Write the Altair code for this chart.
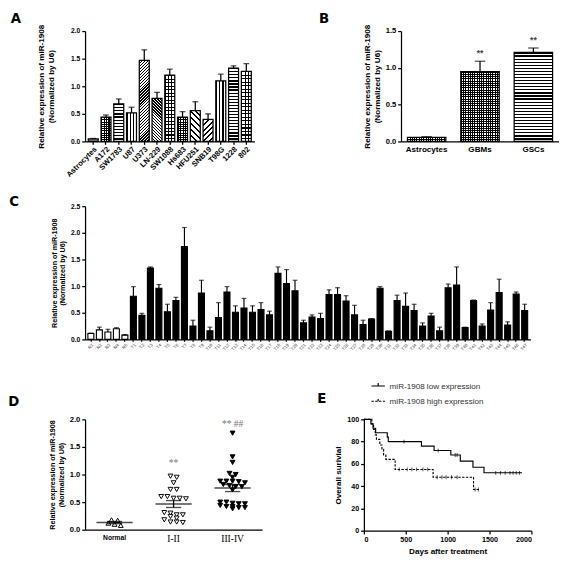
import math
import altair as alt
import pandas as pd

SANS = "Liberation Sans"
SERIF = "Liberation Serif"
LETTER = "DejaVu Sans"
YTITLE = ["Relative expression of miR-1908", "(Normalized by U6)"]

# ---------------- Panel A data ----------------
a_cells = ["Astrocytes", "A172", "SW1783", "U87", "U373", "LN-229", "SW1088",
           "Hs683", "HFU251", "SNB19", "T98G", "1228", "802"]
a_mean = [0.045, 0.44, 0.68, 0.52, 1.47, 0.78, 1.20, 0.44, 0.56, 0.40, 1.10, 1.33, 1.27]
a_top = [0.055, 0.48, 0.77, 0.62, 1.66, 0.89, 1.31, 0.54, 0.72, 0.50, 1.22, 1.37, 1.41]
a_pat = ["solid", "checker", "hlines", "vlines", "fwd_fine", "back_fine", "grid",
         "checker", "back", "fwd", "vlines", "hlines", "grid"]

# ---------------- Panel B data ----------------
b_cells = ["Astrocytes", "GBMs", "GSCs"]
b_mean = [0.055, 0.95, 1.21]
b_top = [0.065, 1.09, 1.27]
b_pat = ["checker", "checker", "hlines"]
b_star = ["", "**", "**"]

# ---------------- Panel C data ----------------
c_labels = ["N1", "N2", "N3", "N4", "N5"] + ["T%d" % i for i in range(1, 48)]
c_mean = [0.11, 0.18, 0.14, 0.20, 0.08,
          0.81, 0.45, 1.34, 0.96, 0.52, 0.73, 1.74, 0.25, 0.87, 0.16,
          0.41, 0.89, 0.51, 0.59, 0.51, 0.56, 0.46, 1.24, 1.05, 0.91,
          0.31, 0.42, 0.39, 0.84, 0.84, 0.72, 0.46, 0.28, 0.38, 0.96,
          0.15, 0.73, 0.62, 0.54, 0.25, 0.44, 0.16, 0.97, 1.02, 0.22,
          0.73, 0.25, 0.55, 0.88, 0.27, 0.85, 0.54]
c_top = [0.12, 0.23, 0.19, 0.22, 0.09,
         0.99, 0.49, 1.36, 1.03, 0.66, 0.79, 2.10, 0.36, 1.11, 0.23,
         0.69, 0.99, 0.63, 0.77, 0.63, 0.69, 0.53, 1.36, 1.31, 1.11,
         0.36, 0.46, 0.49, 0.93, 0.97, 0.82, 0.64, 0.36, 0.39, 0.99,
         0.16, 0.83, 0.87, 0.66, 0.31, 0.49, 0.23, 1.04, 1.36, 0.23,
         0.74, 0.29, 0.69, 1.13, 0.33, 0.89, 0.66]
c_kind = ["Normal"] * 5 + ["Tumor"] * 47

# ---------------- Panel D data ----------------
d_groups = ["Normal", "I-II", "III-IV"]
d_normal = [0.18, 0.12, 0.08, 0.10, 0.17]
d_g12 = [0.95, 0.97, 0.85, 0.73, 0.73, 0.60, 0.57, 0.56, 0.57, 0.60,
         0.30, 0.31, 0.27, 0.27, 0.24, 0.18, 0.14, 0.13, 0.14, 0.21]
d_g34 = [1.75, 1.32, 1.22, 1.00, 0.95, 1.02, 0.88, 0.87, 0.88, 0.88,
         0.80, 0.78, 0.78, 0.72, 0.82, 0.50, 0.48, 0.47, 0.50, 0.47,
         0.42, 0.40, 0.38, 0.40, 0.42, 0.44, 0.85]
d_note_grp = ["I-II", "III-IV"]
d_note_y = [1.20, 1.92]
d_note_txt = ["**", "** ##"]

# ---------------- Panel E data ----------------
e_low_name = "miR-1908 low expression"
e_high_name = "miR-1908 high expression"
e_low_day = [0, 83, 109, 140, 279, 291, 687, 838, 1038, 1151, 1302, 1434, 1887]
e_low_surv = [100, 96, 92, 88, 84, 80, 76, 72, 68, 62.5, 57, 52, 52]
e_high_day = [0, 95, 115, 135, 150, 190, 215, 235, 262, 373, 826, 1309, 1385]
e_high_surv = [100, 96, 91, 86, 82, 77, 73, 68, 64, 55, 48, 37, 37]
e_low_cens_day = [479, 887, 1090, 1113, 1574, 1630, 1687, 1744, 1781, 1819, 1857]
e_low_cens_surv = [80, 72, 68, 68, 52, 52, 52, 52, 52, 52, 52]
e_high_cens_day = [422, 517, 573, 630, 705, 762, 875, 932, 981, 1045, 1113, 1328, 1366]
e_high_cens_surv = [55, 55, 55, 55, 55, 55, 48, 48, 48, 48, 48, 37, 37]


# ---------------- pattern fills (striped gradients) ----------------
def _stops(n, frac, on, off):
    n = max(int(n), 1)
    out = []
    for i in range(n):
        a = round(i / n, 5)
        b = round((i + frac) / n, 5)
        c = round((i + 1) / n, 5)
        out += [alt.GradientStop(offset=a, color=on), alt.GradientStop(offset=b, color=on),
                alt.GradientStop(offset=b, color=off), alt.GradientStop(offset=c, color=off)]
    return out


def _lin(n, frac, on, off, x1, y1, x2, y2):
    return alt.LinearGradient(gradient="linear", stops=_stops(n, frac, on, off),
                              x1=x1, y1=y1, x2=x2, y2=y2)


def pattern_fills(kind, w, h):
    h = max(h, 1.0)
    if kind == "solid":
        return ["#8a8a8a"]
    if kind == "hlines":
        return [_lin(round(h / 3.2), 0.4, "black", "white", 0, 0, 0, 1)]
    if kind == "vlines":
        return [_lin(round(w / 3.2), 0.4, "black", "white", 0, 0, 1, 0)]
    if kind in ("fwd", "back", "fwd_fine", "back_fine"):
        fine = kind.endswith("fine")
        p, frac = (2.2, 0.45) if fine else (4.2, 0.35)
        k = w * (w + h) / (w * w + h * h)
        n = round((w + h) / (p * math.sqrt(2)))
        if kind.startswith("fwd"):
            return [_lin(n, frac, "black", "white", 0, 0, round(k, 5), round(k * h / w, 5))]
        return [_lin(n, frac, "black", "white", 0, 1, round(k, 5), round(1 - k * h / w, 5))]
    p, frac = (3.6, 0.3) if kind == "grid" else (2.4, 0.45)
    return [_lin(round(w / p), frac, "black", "white", 0, 0, 1, 0),
            _lin(round(h / p), frac, "black", "rgba(0,0,0,0)", 0, 0, 0, 1)]


def patterned_bars(cells, means, tops, pats, W, H, ymax, pin, pout, xaxis, yaxis, cap):
    df = pd.DataFrame({"cell": cells, "mean": means, "top": tops})
    n = len(cells)
    step = W / (n - pin + 2 * pout)
    bw = step * (1 - pin)
    xs = alt.Scale(type="band", domain=cells, paddingInner=pin, paddingOuter=pout)
    ys = alt.Scale(domain=[0, ymax])
    X = alt.X("cell:N", sort=cells, scale=xs, axis=xaxis)
    layers = []
    for i, c in enumerate(cells):
        h = means[i] / ymax * H
        fl = pattern_fills(pats[i], bw, h)
        for j, f in enumerate(fl):
            last = (j == len(fl) - 1)
            mk = dict(fill=f, strokeWidth=1.3, width=bw)
            if last:
                mk["stroke"] = "black"
            layers.append(
                alt.Chart(df).transform_filter(alt.datum.cell == c).mark_bar(**mk).encode(
                    x=X, y=alt.Y("mean:Q", scale=ys, axis=yaxis)))
    layers.append(alt.Chart(df).mark_rule(color="black", strokeWidth=1.3).encode(
        x=X, y=alt.Y("mean:Q", scale=ys, axis=yaxis), y2="top:Q"))
    layers.append(alt.Chart(df).mark_tick(color="black", thickness=1.3, size=cap).encode(
        x=X, y=alt.Y("top:Q", scale=ys, axis=yaxis)))
    return layers, df, X, ys


def panel_title(letter, offset, dy):
    # panel letter sits to the left of the y-axis title, level with the top of the panel
    return alt.TitleParams(letter, orient="left", angle=0, anchor="end", align="right",
                           baseline="top", dy=dy, font=LETTER, fontSize=14,
                           fontWeight="bold", color="black", offset=offset, frame="bounds")


def y_axis(values, lsize, tsize, pad):
    return alt.Axis(title=YTITLE, values=values, format=".1f", labelFontSize=lsize,
                    titleFontSize=tsize, titleLineHeight=tsize * 1.2, titlePadding=pad,
                    tickSize=3.5, labelPadding=2)


# ---------------- Panel A ----------------
A_W, A_H = 178, 116
a_yaxis = y_axis([0, 0.5, 1, 1.5, 2], 7, 8.5, 16)
a_layers, _, _, _ = patterned_bars(
    a_cells, a_mean, a_top, a_pat, A_W, A_H, 2.0, 0.22, 0.25,
    alt.Axis(title=None, labelAngle=-45, labelFontSize=8, tickSize=3, labelPadding=1),
    a_yaxis, 6)
panelA = alt.layer(*a_layers).properties(width=A_W, height=A_H, title=panel_title("A", 6, -12))

# ---------------- Panel B ----------------
B_W, B_H = 166, 116
b_yaxis = y_axis([0, 0.5, 1.0, 1.5], 8, 8.5, 4)
b_layers, b_df, b_X, b_ys = patterned_bars(
    b_cells, b_mean, b_top, b_pat, B_W, B_H, 1.5, 0.28, 0.12,
    alt.Axis(title=None, labelAngle=0, labelFontSize=8.5, ticks=False, labelPadding=4),
    b_yaxis, 11)
b_df["star"] = b_star
b_layers.append(alt.Chart(b_df).mark_text(dy=-3, baseline="bottom", font=SANS, fontWeight="bold",
                                          fontSize=9, color="#444").encode(
    x=b_X, y=alt.Y("top:Q", scale=b_ys, axis=b_yaxis), text="star:N"))
panelB = alt.layer(*b_layers).properties(width=B_W, height=B_H, title=panel_title("B", 25, -12))

# ---------------- Panel C ----------------
C_W, C_H = 468, 140
c_pin, c_pout = 0.3, 0.33
c_bw = C_W / (len(c_labels) - c_pin + 2 * c_pout) * (1 - c_pin)
c_df = pd.DataFrame({"lab": c_labels, "mean": c_mean, "top": c_top, "kind": c_kind})
c_X = alt.X("lab:N", sort=c_labels,
            scale=alt.Scale(type="band", domain=c_labels, paddingInner=c_pin, paddingOuter=c_pout),
            axis=alt.Axis(title=None, labelAngle=-45, labelFontSize=4.5, labelFontWeight="normal",
                          labelColor="#333", tickSize=2, labelPadding=1))
c_ys = alt.Scale(domain=[0, 2.5])
c_yaxis = y_axis([0, 0.5, 1, 1.5, 2, 2.5], 7, 7.5, 4)
c_bars = alt.Chart(c_df).mark_bar(stroke="black", strokeWidth=1.2, width=c_bw).encode(
    x=c_X, y=alt.Y("mean:Q", scale=c_ys, axis=c_yaxis),
    fill=alt.Fill("kind:N", scale=alt.Scale(domain=["Normal", "Tumor"], range=["white", "black"]),
                  legend=None))
c_rule = alt.Chart(c_df).mark_rule(color="black", strokeWidth=1.2).encode(
    x=c_X, y=alt.Y("mean:Q", scale=c_ys, axis=c_yaxis), y2="top:Q")
c_cap = alt.Chart(c_df).mark_tick(color="black", thickness=1.2, size=5).encode(
    x=c_X, y=alt.Y("top:Q", scale=c_ys, axis=c_yaxis))
panelC = alt.layer(c_bars, c_rule, c_cap).properties(width=C_W, height=C_H,
                                                     title=panel_title("C", 23, -7))


# ---------------- Panel D ----------------
def jitter(vals, gap=0.055, sp=6.5):
    order = sorted(range(len(vals)), key=lambda i: -vals[i])
    offs = [0.0] * len(vals)
    rows, cur = [], []
    for i in order:
        if cur and vals[cur[0]] - vals[i] > gap:
            rows.append(cur)
            cur = []
        cur.append(i)
    rows.append(cur)
    for r in rows:
        k = len(r)
        for j, i in enumerate(r):
            offs[i] = (j - (k - 1) / 2) * sp
    return offs


D_W, D_H = 186, 116
d_vals = [d_normal, d_g12, d_g34]
rows = []
stat = []
for g, vals in zip(d_groups, d_vals):
    for v, o in zip(vals, jitter(vals)):
        rows.append({"grp": g, "val": v, "jit": o})
    m = sum(vals) / len(vals)
    sd = math.sqrt(sum((v - m) ** 2 for v in vals) / (len(vals) - 1))
    se = sd / math.sqrt(len(vals))
    stat.append({"grp": g, "mean": m, "lo": m - se, "hi": m + se})
d_df = pd.DataFrame(rows)
d_stat = pd.DataFrame(stat)
d_note = pd.DataFrame({"grp": d_note_grp, "y": d_note_y, "txt": d_note_txt})
bwD = D_W / 3
is_norm = "datum.value == 'Normal'"
d_X = alt.X("grp:N", sort=d_groups,
            scale=alt.Scale(type="band", domain=d_groups, paddingInner=0, paddingOuter=0),
            axis=alt.Axis(title=None, labelAngle=0, ticks=False, labelPadding=4,
                          labelFont={"condition": {"test": is_norm, "value": SANS}, "value": SERIF},
                          labelFontWeight={"condition": {"test": is_norm, "value": "bold"},
                                           "value": "normal"},
                          labelFontSize={"condition": {"test": is_norm, "value": 7}, "value": 10}))
d_ys = alt.Scale(domain=[0, 2])
d_yaxis = y_axis([0, 0.5, 1, 1.5, 2], 8, 7.5, 4)
d_pts = alt.Chart(d_df).mark_point(filled=True, stroke="black", strokeWidth=1, size=26, opacity=1).encode(
    x=d_X,
    xOffset=alt.XOffset("jit:Q", scale=alt.Scale(domain=[-bwD / 2, bwD / 2], range=[0, bwD])),
    y=alt.Y("val:Q", scale=d_ys, axis=d_yaxis),
    shape=alt.Shape("grp:N", scale=alt.Scale(domain=d_groups,
                                             range=["triangle-up", "triangle-down", "triangle-down"]),
                    legend=None),
    fill=alt.Fill("grp:N", scale=alt.Scale(domain=d_groups, range=["white", "white", "black"]),
                  legend=None))
d_mean = alt.Chart(d_stat).mark_tick(color="black", thickness=1.6, size=38).encode(
    x=d_X, y=alt.Y("mean:Q", scale=d_ys, axis=d_yaxis))
d_sem = alt.Chart(d_stat).mark_rule(color="black", strokeWidth=1.4).encode(
    x=d_X, y=alt.Y("lo:Q", scale=d_ys, axis=d_yaxis), y2="hi:Q")
d_caplo = alt.Chart(d_stat).mark_tick(color="black", thickness=1.4, size=16).encode(
    x=d_X, y=alt.Y("lo:Q", scale=d_ys, axis=d_yaxis))
d_caphi = alt.Chart(d_stat).mark_tick(color="black", thickness=1.4, size=16).encode(
    x=d_X, y=alt.Y("hi:Q", scale=d_ys, axis=d_yaxis))
d_txt = alt.Chart(d_note).mark_text(font=SERIF, fontSize=10, color="#777").encode(
    x=d_X, y=alt.Y("y:Q", scale=d_ys, axis=d_yaxis), text="txt:N")
panelD = alt.layer(d_pts, d_sem, d_caplo, d_caphi, d_mean, d_txt).properties(
    width=D_W, height=D_H, title=panel_title("D", 20, -21))

# ---------------- Panel E ----------------
E_W, E_H = 176, 117
e_lines = pd.DataFrame({
    "day": e_low_day + e_high_day,
    "surv": e_low_surv + e_high_surv,
    "grp": [e_low_name] * len(e_low_day) + [e_high_name] * len(e_high_day)})
e_cens = pd.DataFrame({
    "day": e_low_cens_day + e_high_cens_day,
    "surv": e_low_cens_surv + e_high_cens_surv})
e_X = alt.X("day:Q", scale=alt.Scale(domain=[0, 2000], nice=False),
            axis=alt.Axis(title="Days after treatment", values=[0, 500, 1000, 1500, 2000],
                          format="d", labelFontSize=7.5, titleFontSize=8.5, tickSize=3.5,
                          titlePadding=4))
e_Y = alt.Y("surv:Q", scale=alt.Scale(domain=[0, 100], nice=False),
            axis=alt.Axis(title="Overall surivial", values=[0, 20, 40, 60, 80, 100],
                          format="d", labelFontSize=7.5, titleFontSize=8.5, tickSize=3.5,
                          titlePadding=5))
e_line = alt.Chart(e_lines).mark_line(interpolate="step-after", color="black", strokeWidth=1.2).encode(
    x=e_X, y=e_Y,
    strokeDash=alt.StrokeDash(
        "grp:N", scale=alt.Scale(domain=[e_low_name, e_high_name], range=[[1, 0], [2.5, 1.5]]),
        legend=alt.Legend(title="E", orient="none", legendX=-49, legendY=-43,
                          titleOrient="left", titleFont=LETTER, titleFontSize=14,
                          titleFontWeight="bold", titleColor="black", titlePadding=46,
                          titleAnchor="end", titleBaseline="bottom",
                          labelFont=SANS, labelFontSize=8.5, labelColor="#333",
                          symbolType="M-1,0L1,0M0,0L0,-0.45", symbolSize=200,
                          symbolStrokeColor="black", symbolStrokeWidth=1.2,
                          rowPadding=3)))
e_tick = alt.Chart(e_cens).mark_tick(orient="vertical", color="black", thickness=1, size=4).encode(
    x=e_X, y=e_Y)
panelE = alt.layer(e_line, e_tick).properties(width=E_W, height=E_H)

# ---------------- assemble ----------------
row1 = alt.hconcat(panelA, panelB, spacing=67)
row3 = alt.hconcat(panelD, panelE, spacing=58).resolve_legend(strokeDash="independent")
upper = alt.concat(row1, panelC, columns=1, spacing=18, align="none")
chart = alt.concat(upper, row3, columns=1, spacing=29, align="none").resolve_legend(
    strokeDash="independent"
).properties(
    padding={"top": -10, "left": 0, "right": 0, "bottom": 0}
).configure_view(
    stroke=None
).configure_axis(
    labelFont=SANS, labelFontWeight="bold", labelColor="black",
    titleFont=SANS, titleFontWeight="bold", titleColor="black",
    domainColor="black", domainWidth=1.3, tickColor="black", tickWidth=1.3, grid=False
)

chart.save("out.html", embed_options={"renderer": "svg", "actions": False})
